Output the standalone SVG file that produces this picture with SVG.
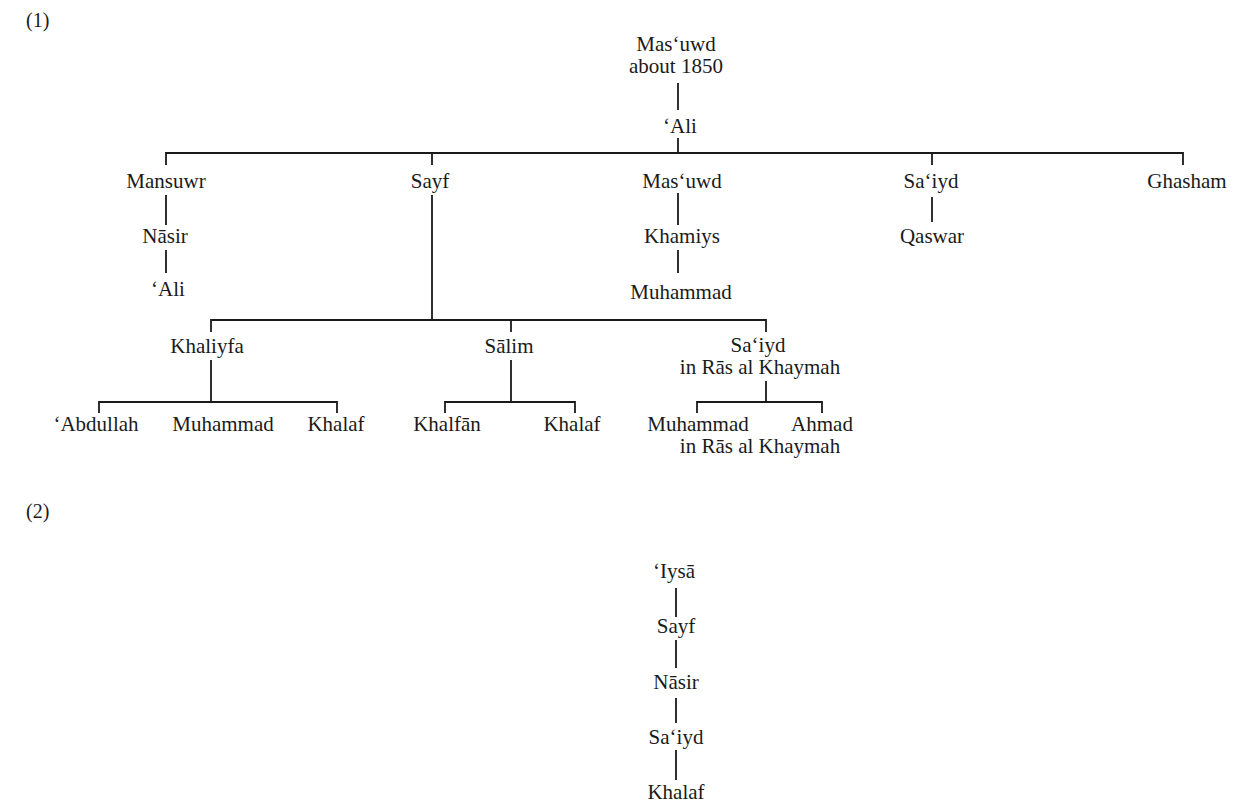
<svg xmlns="http://www.w3.org/2000/svg" width="1248" height="804" viewBox="0 0 1248 804">
<style>
text{font-family:"Liberation Serif","Times New Roman",serif;font-size:21px;fill:#1a1a1a;text-anchor:middle}
.lbl{text-anchor:start;font-size:20px}
#connectors path{fill:none;stroke:#1a1a1a;stroke-width:1.8}
</style>
<rect width="1248" height="804" fill="#fff"/>
<text class="lbl" x="26" y="27">(1)</text>
<text class="lbl" x="26" y="518">(2)</text>
<g id="connectors">
<path d="M678 83V110"/>
<path d="M678 138V153M166 165V153H1183V165M432 153V165M932 153V165"/>
<path d="M166 195V225M166 250V273"/>
<path d="M678 193V225M678 250V273"/>
<path d="M932 197V222"/>
<path d="M432 195V320M211 332V320H766V332M511 320V332"/>
<path d="M211 360V402M99 413V402H337V413"/>
<path d="M511 360V402M445 413V402H575V413"/>
<path d="M766 381V402M697 413V402H822V413"/>
<path d="M676 588V617M676 640V668M676 698V723M676 750V780"/>
</g>
<g id="n-masuwd-root"><text x="676" y="51">Mas‘uwd</text><text x="676" y="73">about 1850</text></g>
<g id="n-ali-1"><text x="680" y="133">‘Ali</text></g>
<g id="n-mansuwr"><text x="166" y="188">Mansuwr</text></g>
<g id="n-sayf"><text x="430" y="188">Sayf</text></g>
<g id="n-masuwd-2"><text x="682" y="188">Mas‘uwd</text></g>
<g id="n-saiyd-1"><text x="931" y="188">Sa‘iyd</text></g>
<g id="n-ghasham"><text x="1187" y="188">Ghasham</text></g>
<g id="n-nasir-1"><text x="165" y="243">Nāsir</text></g>
<g id="n-khamiys"><text x="682" y="243">Khamiys</text></g>
<g id="n-qaswar"><text x="932" y="243">Qaswar</text></g>
<g id="n-ali-2"><text x="168" y="296">‘Ali</text></g>
<g id="n-muhammad-1"><text x="681" y="299">Muhammad</text></g>
<g id="n-khaliyfa"><text x="207" y="353">Khaliyfa</text></g>
<g id="n-salim"><text x="509" y="353">Sālim</text></g>
<g id="n-saiyd-2"><text x="758" y="352">Sa‘iyd</text><text x="760" y="374">in Rās al Khaymah</text></g>
<g id="n-abdullah"><text x="96" y="431">‘Abdullah</text></g>
<g id="n-muhammad-2"><text x="223" y="431">Muhammad</text></g>
<g id="n-khalaf-1"><text x="336" y="431">Khalaf</text></g>
<g id="n-khalfan"><text x="447" y="431">Khalfān</text></g>
<g id="n-khalaf-2"><text x="572" y="431">Khalaf</text></g>
<g id="n-muhammad-3"><text x="698" y="431">Muhammad</text><text x="760" y="453">in Rās al Khaymah</text></g>
<g id="n-ahmad"><text x="822" y="431">Ahmad</text></g>
<g id="n-iysa"><text x="674" y="578">‘Iysā</text></g>
<g id="n-sayf-2"><text x="676" y="633">Sayf</text></g>
<g id="n-nasir-2"><text x="676" y="689">Nāsir</text></g>
<g id="n-saiyd-3"><text x="676" y="744">Sa‘iyd</text></g>
<g id="n-khalaf-3"><text x="676" y="799">Khalaf</text></g>
</svg>
